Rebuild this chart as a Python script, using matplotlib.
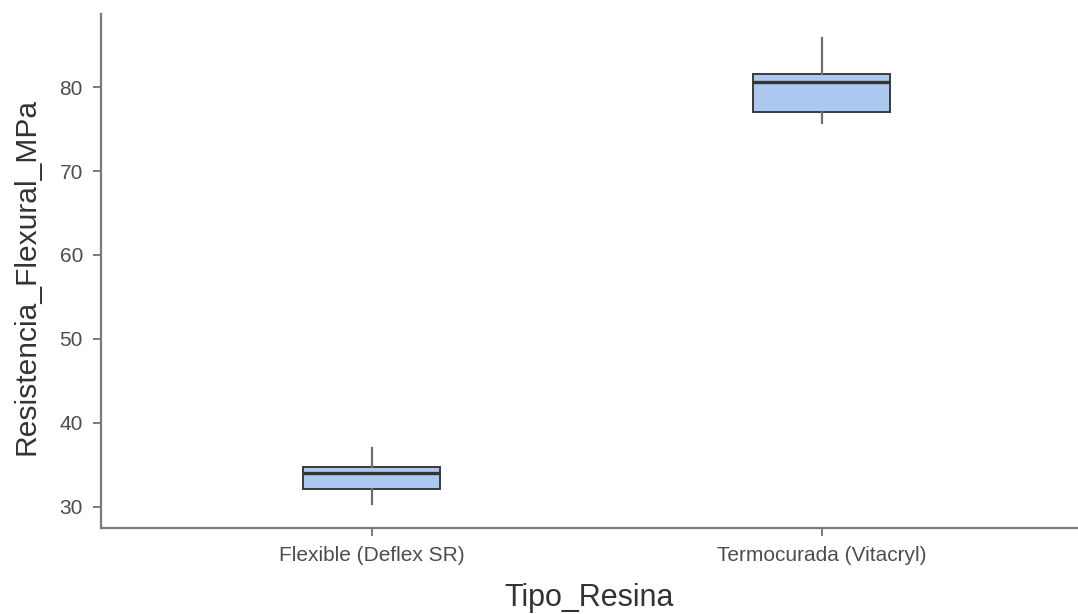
import matplotlib.pyplot as plt

plt.rcParams['font.family'] = ['Liberation Sans', 'DejaVu Sans']

# Box summaries
categories = ["Flexible (Deflex SR)", "Termocurada (Vitacryl)"]
whisker_low = [30.3, 75.7]
q1 = [32.1, 77.0]
median = [34.0, 80.6]
q3 = [34.7, 81.6]
whisker_high = [37.0, 85.8]

stats = []
for i, name in enumerate(categories):
    stats.append({"label": name, "whislo": whisker_low[i], "q1": q1[i],
                  "med": median[i], "q3": q3[i], "whishi": whisker_high[i],
                  "fliers": []})

fig = plt.figure(figsize=(10.78, 6.14), dpi=100)
ax = fig.add_axes([0.0937, 0.14, 0.906, 0.837])

axis_gray = "#7a7a7a"
ax.bxp(stats, positions=[0, 1], widths=0.304, patch_artist=True, showcaps=False,
       boxprops=dict(facecolor="#aac8f0", edgecolor="#3a3a3a", linewidth=1.4),
       medianprops=dict(color="#333333", linewidth=2.4),
       whiskerprops=dict(color="#6e6e6e", linewidth=1.6))

ax.set_xlim(-0.602, 1.569)
ax.set_ylim(27.45, 88.7)
ax.set_yticks([30, 40, 50, 60, 70, 80])

for side in ["top", "right"]:
    ax.spines[side].set_visible(False)
for side in ["left", "bottom"]:
    ax.spines[side].set_color(axis_gray)
    ax.spines[side].set_linewidth(1.6)

ax.tick_params(axis="both", colors=axis_gray, length=6, width=1.4,
               labelsize=15, labelcolor="#4d4d4d")
ax.tick_params(axis="x", pad=7)
ax.tick_params(axis="y", pad=7)

ax.set_xlabel("Tipo_Resina", fontsize=22, color="#333333", labelpad=13)
ax.set_ylabel("Resistencia_Flexural_MPa", fontsize=21.6, color="#333333")
ax.yaxis.set_label_coords(-0.062, 0.49)

fig.savefig("out.png", dpi=100)
